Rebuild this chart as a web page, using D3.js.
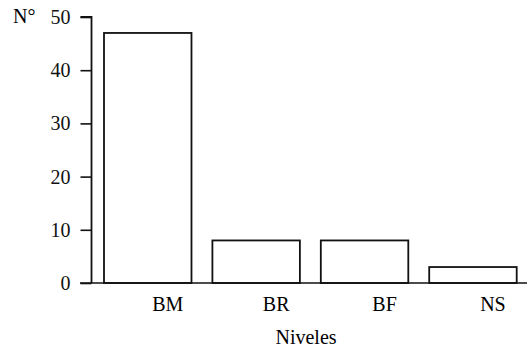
<!DOCTYPE html>
<html><head><meta charset="utf-8">
<script src="https://cdn.jsdelivr.net/npm/d3@7"></script>
</head>
<body style="margin:0;background:#fff"><svg id="c" width="528" height="349"></svg>
<script>
const categories = ["BM","BR","BF","NS"];
const values = [47, 8, 8, 3];
const yTicks = [0,10,20,30,40,50];
const yLabel = "N°";
const xLabel = "Niveles";

const FONT = "'Liberation Serif'";
const svg = d3.select("#c");
const x = d3.scaleBand().domain(categories).range([104, 516.7]).paddingInner(0.193).paddingOuter(0);
const y = d3.scaleLinear().domain([0,50]).range([283, 17]);

function serif(sel){
  sel.attr("font-family","Liberation Serif").attr("font-size",20)
     .style("font-family",FONT,"important").style("font-size","20px","important");
}

svg.selectAll("rect.bar").data(values).enter().append("rect")
  .attr("x",(d,i)=>x(categories[i]))
  .attr("y",d=>y(d))
  .attr("width",x.bandwidth())
  .attr("height",d=>y(0)-y(d))
  .attr("fill","#fff").attr("stroke","#111").attr("stroke-width",1.8);

svg.append("line").attr("x1",80).attr("x2",527).attr("y1",y(0)).attr("y2",y(0))
  .attr("stroke","#111").attr("stroke-width",1.6);

const ay = svg.append("g").attr("transform","translate(91.5,0)")
  .call(d3.axisLeft(y).tickValues(yTicks).tickSize(11).tickPadding(10));
serif(ay);
ay.select(".domain").attr("stroke","#111").attr("stroke-width",1.8).attr("d",`M-11,${y(50)}H0V${y(0)}`);
ay.selectAll(".tick line").attr("stroke","#111").attr("stroke-width",1.6);
ay.selectAll(".tick text").call(serif).attr("fill","#111");

svg.selectAll("text.cat").data(categories).enter().append("text")
  .attr("x",d=>x(d)+x.bandwidth()/2+20)
  .attr("y",311)
  .attr("text-anchor","middle").call(serif).text(d=>d);

svg.append("text").attr("x",306).attr("y",344).attr("text-anchor","middle")
  .call(serif).text(xLabel);
svg.append("text").attr("x",13).attr("y",23).call(serif).text(yLabel);
</script></body></html>
